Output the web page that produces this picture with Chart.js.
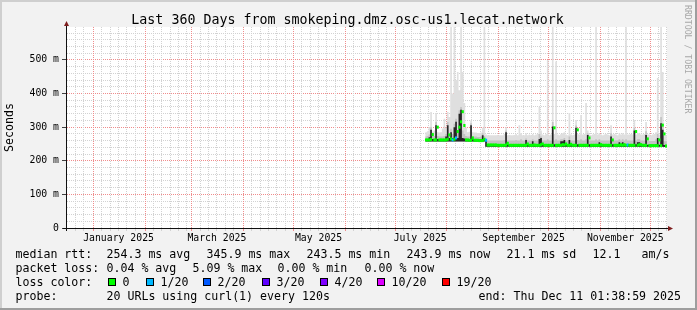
<!DOCTYPE html>
<html>
<head>
<meta charset="utf-8">
<script src="https://cdn.jsdelivr.net/npm/chart.js@4.4.1/dist/chart.umd.min.js"></script>
<style>
  html, body { margin: 0; padding: 0; background: #f2f2f2; }
  #wrap { width: 697px; height: 310px; }
</style>
</head>
<body>
<div id="wrap"><canvas id="chart" width="697" height="310"></canvas></div>
<script>
// --- data, one value per day from 2025-07-19 ---
const medianRtt = [
  262,262,262,263,278,262,262,300,262,262,  262,262,262,264,277,265,262,264,268,287,
  300,316,346,305,262,262,261,261,268,261,  261,261,260,260,260,264,261,247,247,247,
  247,247,247,246,246,246,246,246,247,252,  246,246,246,246,246,246,246,246,246,246,
  246,250,246,246,246,247,246,246,246,248,  250,246,246,246,246,246,246,298,246,246,
  246,246,248,247,250,246,246,249,246,246,  246,292,246,246,246,246,246,246,268,246,
  246,246,246,246,246,248,246,246,246,246,  246,246,262,246,246,246,246,248,246,248,
  246,247,246,246,246,246,287,246,248,248,  246,246,246,265,245,245,245,245,245,245,
  262,245,306,280,244,244
];
const smokeLow = [
  257,257,257,257,257,257,257,257,257,257,  257,257,257,257,257,257,257,257,257,257,
  257,257,257,257,257,257,257,257,257,257,  257,257,257,257,257,257,257,242,242,242,
  242,242,242,242,242,242,242,242,242,242,  242,242,242,242,242,242,242,242,242,242,
  242,242,242,242,242,242,242,242,242,242,  242,242,242,242,242,242,242,242,242,242,
  242,242,242,242,242,242,242,242,242,242,  242,242,242,242,242,242,242,242,242,242,
  242,242,242,242,242,242,242,242,242,242,  242,242,242,242,242,242,242,242,242,242,
  242,242,242,242,242,242,242,242,242,242,  242,242,242,242,242,242,242,242,242,242,
  242,242,242,242,241,241
];
const smokeDark = [
  264,264,265,270,292,265,265,306,265,264,  264,264,265,272,306,268,285,268,300,316,
  268,340,352,268,266,265,264,264,306,264,  264,264,263,263,264,276,264,262,249,249,
  249,249,249,249,249,249,249,249,250,285,  249,249,249,249,249,250,249,249,249,249,
  249,262,249,249,249,258,249,249,249,265,  268,249,249,249,250,249,249,302,249,250,
  249,249,258,258,262,249,249,262,249,249,  249,298,249,249,249,249,249,250,277,249,
  249,249,249,249,249,255,249,249,249,249,  249,249,272,249,249,249,249,255,249,255,
  249,250,249,249,249,249,290,249,255,255,  249,249,249,277,248,248,248,248,248,249,
  268,248,312,292,247,247
];
const smokeMid = [
  272,272,274,278,300,274,274,315,274,272,  272,272,274,280,315,280,295,280,310,325,
  285,350,360,290,280,274,272,272,312,272,  272,272,271,271,272,282,274,266,260,260,
  260,260,260,260,260,260,260,260,262,290,  260,260,260,260,260,262,260,260,264,260,
  260,266,260,260,260,264,260,260,260,280,  272,260,260,260,264,260,260,315,260,264,
  260,260,264,264,268,260,260,272,260,260,  260,305,262,260,264,260,260,264,282,260,
  260,260,260,264,260,264,260,260,260,260,  260,260,282,260,260,260,260,264,260,264,
  260,264,260,260,260,260,298,260,264,264,  260,260,260,288,259,259,259,259,259,264,
  280,259,330,310,258,258
];
const smokeMax = [
  284,285,288,300,345,286,290,342,285,284,  285,296,325,298,345,330,620,400,620,440,
  464,410,620,464,372,298,285,286,320,285,  284,284,283,283,284,298,620,278,276,276,
  276,276,276,276,277,276,276,276,280,300,  276,277,276,276,277,280,276,306,282,276,
  276,282,276,278,276,280,276,278,280,361,  290,278,276,280,500,276,278,600,280,495,
  278,276,280,282,285,278,276,342,278,276,  278,321,280,278,336,278,280,372,290,278,
  276,278,280,620,278,282,278,276,278,280,  278,276,306,278,280,278,276,282,278,282,
  278,620,278,278,280,278,321,278,282,282,  278,278,280,315,278,278,276,278,280,285,
  446,278,620,464,276,276
];
const lossCount = [
  0,0,0,0,0,0,0,0,0,0,  0,0,0,0,0,0,1,0,1,0,
  0,0,0,0,0,0,0,0,0,0,  0,0,0,0,0,0,1,0,0,0,
  0,0,0,0,0,0,0,0,0,0,  0,0,0,0,0,0,0,0,0,0,
  0,0,0,0,0,0,0,0,0,0,  0,0,0,0,0,0,0,0,0,0,
  0,0,0,0,0,0,0,0,0,0,  0,0,0,0,0,0,0,0,0,0,
  0,0,0,0,0,0,0,0,0,0,  0,0,0,0,0,0,0,0,0,0,
  0,1,0,0,0,0,0,0,0,0,  0,0,0,0,0,0,0,0,0,0,
  0,0,0,0,0,0
];

const lossSteps  = [0, 1, 2, 3, 4, 10, 19];
const lossColors = ['#00ff00', '#00b8ff', '#0059ff', '#5e00ff', '#7e00ff', '#dd00ff', '#ff0000'];
const lossLabels = ['0', '1/20', '2/20', '3/20', '4/20', '10/20', '19/20'];

const yGridValues  = [0,20,40,60,80,100,120,140,160,180,200,220,240,260,280,300,320,340,360,380,400,420,440,460,480,500,520,540,560,580];
const yLabelValues = [0, 100, 200, 300, 400, 500];
const yLabelTexts  = ['0', '100 m', '200 m', '300 m', '400 m', '500 m'];

const labelMonths = [0, 2, 4, 6, 8, 10];
const monthLabels = ['January 2025', 'March 2025', 'May 2025', 'July 2025', 'September 2025', 'November 2025'];

const titleText = 'Last 360 Days from smokeping.dmz.osc-us1.lecat.network';

// --- time axis: days since the start of the 360 day window ---
const DAY = 86400000;
const endTime = Date.UTC(2025, 11, 11, 1, 38, 59);
const startTime = endTime - 360 * DAY;
const toDay = t => (t - startTime) / DAY;
const firstBin = toDay(Date.UTC(2025, 6, 19));

const xTicks = [];
for (let yr = 2024; yr <= 2025; yr++) {
  for (let m = 0; m < 12; m++) {
    for (const d of [1, 6, 11, 16, 21, 26]) {
      const v = toDay(Date.UTC(yr, m, d));
      if (v < 0 || v > 360) continue;
      const k = labelMonths.indexOf(m);
      xTicks.push({ v, major: d === 1, label: (yr === 2025 && d === 16 && k >= 0) ? monthLabels[k] : '' });
    }
  }
}

const bins = arr => arr.map((v, i) => ({ x: firstBin + i, y: v }));
const mids = arr => arr.map((v, i) => ({ x: firstBin + i + 0.5, y: v }));

function lossColor(n) {
  let c = lossColors[0];
  lossSteps.forEach((s, k) => { if (n >= s) c = lossColors[k]; });
  return c;
}

const MONO = '"DejaVu Sans Mono", monospace';
const NONE = 'rgba(0,0,0,0)';
const gridMinor = 'rgb(210,210,210)';
const gridMajor = 'rgb(240,140,140)';

const smoke = (data, color, order) => ({
  data: bins(data), stepped: 'after', fill: 4, order,
  backgroundColor: color, borderColor: NONE, borderWidth: 0, pointRadius: 0
});

// rrdtool style dotted grid, one pixel on / one off, placed by the chart scales
const dottedGrid = {
  id: 'dottedGrid',
  beforeDatasetsDraw(chart) {
    const { ctx, chartArea: a, scales } = chart;
    const top = Math.round(a.top), bottom = Math.round(a.bottom);
    const left = Math.round(a.left), right = Math.round(a.right);
    ctx.save();
    const hLine = (row, color) => {
      ctx.fillStyle = color;
      for (let x = left; x < right; x += 2) ctx.fillRect(x, row, 1, 1);
    };
    const vLine = (col, color) => {
      ctx.fillStyle = color;
      for (let y = bottom - 1; y >= top; y -= 2) ctx.fillRect(col, y, 1, 1);
    };
    yGridValues.forEach(v => {
      if (v === 0) return;
      const row = Math.floor(scales.y.getPixelForValue(v));
      hLine(row, yLabelValues.includes(v) ? gridMajor : gridMinor);
    });
    xTicks.forEach(t => {
      const col = Math.floor(scales.x.getPixelForValue(t.v));
      vLine(col, t.major ? gridMajor : gridMinor);
      ctx.fillRect(col, bottom + 1, 1, 2);
    });
    ctx.fillStyle = '#404040';
    yLabelValues.forEach(v => {
      const row = Math.floor(scales.y.getPixelForValue(v));
      ctx.fillRect(left - 5, row, 4, 1);
    });
    ctx.restore();
  }
};

// frame, labels and legend drawn the rrdtool way
const rrdFrame = {
  id: 'rrdFrame',
  beforeDraw(chart) {
    const { ctx, chartArea: a } = chart;
    ctx.save();
    ctx.fillStyle = '#f2f2f2';
    ctx.fillRect(0, 0, 697, 310);
    ctx.fillStyle = '#cfcfcf';
    ctx.fillRect(0, 0, 697, 2);
    ctx.fillRect(0, 0, 2, 310);
    ctx.fillStyle = '#9e9e9e';
    ctx.fillRect(0, 308, 697, 2);
    ctx.fillRect(695, 0, 2, 310);
    ctx.fillStyle = '#ffffff';
    ctx.fillRect(a.left, a.top, a.right - a.left, a.bottom - a.top);
    ctx.restore();
  },
  afterDraw(chart) {
    const { ctx, chartArea: a } = chart;
    ctx.save();
    // axes
    ctx.strokeStyle = '#101010';
    ctx.lineWidth = 1;
    ctx.beginPath();
    ctx.moveTo(a.left - 0.5, a.bottom + 3);
    ctx.lineTo(a.left - 0.5, a.top - 2);
    ctx.moveTo(a.left - 4, a.bottom + 0.5);
    ctx.lineTo(a.right + 3, a.bottom + 0.5);
    ctx.stroke();
    ctx.fillStyle = '#7f1f1f';
    ctx.beginPath();
    ctx.moveTo(a.left - 3, a.top - 1);
    ctx.lineTo(a.left + 2, a.top - 1);
    ctx.lineTo(a.left - 0.5, a.top - 6);
    ctx.closePath();
    ctx.fill();
    ctx.beginPath();
    ctx.moveTo(a.right + 1, a.bottom - 2);
    ctx.lineTo(a.right + 1, a.bottom + 3);
    ctx.lineTo(a.right + 6, a.bottom + 0.5);
    ctx.closePath();
    ctx.fill();

    // title
    ctx.fillStyle = '#000';
    ctx.font = '13.3px ' + MONO;
    ctx.textAlign = 'center';
    ctx.textBaseline = 'alphabetic';
    ctx.fillText(titleText, 347.5, 23.5);

    // vertical axis title
    ctx.font = '11.6px ' + MONO;
    ctx.save();
    ctx.translate(13, 127.5);
    ctx.rotate(-Math.PI / 2);
    ctx.textBaseline = 'alphabetic';
    ctx.fillText('Seconds', 0, 0);
    ctx.restore();

    // watermark
    ctx.save();
    ctx.translate(685, 5);
    ctx.rotate(Math.PI / 2);
    ctx.font = '8.2px ' + MONO;
    ctx.fillStyle = '#a8a8a8';
    ctx.textAlign = 'left';
    ctx.textBaseline = 'alphabetic';
    ctx.fillText('RRDTOOL / TOBI OETIKER', 0, 0);
    ctx.restore();

    // legend block
    ctx.font = '11.6px ' + MONO;
    ctx.textAlign = 'left';
    ctx.fillStyle = '#000';
    const rows = [
      [257.5, [[16, 'median rtt:'], [107, '254.3 ms avg'], [207, '345.9 ms max'], [307, '243.5 ms min'],
               [407, '243.9 ms now'], [507, '21.1 ms sd'], [593, '12.1'], [642, 'am/s']]],
      [271.5, [[16, 'packet loss:'], [107, '0.04 % avg'], [193, '5.09 % max'], [278, '0.00 % min'], [365, '0.00 % now']]],
      [285.5, [[16, 'loss color:']]],
      [299.5, [[16, 'probe:'], [107, '20 URLs using curl(1) every 120s']]]
    ];
    rows.forEach(([y, items]) => items.forEach(([x, t]) => ctx.fillText(t, x - 0.5, y)));
    ctx.textAlign = 'right';
    ctx.fillText('end: Thu Dec 11 01:38:59 2025', 681, 299.5);

    const boxX = [108, 146, 203, 262, 320, 377, 442];
    ctx.textAlign = 'left';
    lossLabels.forEach((lab, k) => {
      ctx.fillStyle = lossColors[k];
      ctx.fillRect(boxX[k], 278, 8, 8);
      ctx.strokeStyle = '#000';
      ctx.strokeRect(boxX[k] + 0.5, 278.5, 7, 7);
      ctx.fillStyle = '#000';
      ctx.fillText(lab, boxX[k] + 14.5, 285.5);
    });
    ctx.restore();
  }
};

new Chart(document.getElementById('chart'), {
  type: 'line',
  data: {
    datasets: [
      {
        data: mids(medianRtt), showLine: false, order: 0,
        pointStyle: 'line', pointRadius: 1.1, pointBorderWidth: 3,
        pointBorderColor: lossCount.map(lossColor),
        pointBackgroundColor: lossCount.map(lossColor)
      },
      smoke(smokeDark, '#262626', 1),
      smoke(smokeMid, '#c2c2c2', 2),
      smoke(smokeMax, '#dfdfdf', 3),
      { data: bins(smokeLow), stepped: 'after', fill: false, order: 4,
        borderColor: NONE, borderWidth: 0, pointRadius: 0 }
    ]
  },
  plugins: [rrdFrame, dottedGrid],
  options: {
    responsive: false,
    animation: false,
    devicePixelRatio: 1,
    events: [],
    layout: { padding: { left: 0, right: 30, top: 27, bottom: 0 } },
    plugins: { legend: { display: false }, tooltip: { enabled: false }, title: { display: false } },
    scales: {
      x: {
        type: 'linear', min: 0, max: 360,
        afterBuildTicks: s => { s.ticks = xTicks.map(t => ({ value: t.v })); },
        afterFit: s => { s.height = 82; },
        grid: { drawOnChartArea: false, tickLength: 3, color: NONE, tickColor: NONE },
        border: { display: false },
        ticks: {
          autoSkip: false, maxRotation: 0, minRotation: 0, padding: 1.5,
          color: '#000', font: { family: MONO, size: 9.8 },
          callback: (v, i) => (xTicks[i] ? xTicks[i].label : '')
        }
      },
      y: {
        type: 'linear', min: 0, max: 598,
        afterBuildTicks: s => { s.ticks = yGridValues.map(v => ({ value: v })); },
        afterFit: s => { s.width = 67; },
        grid: { drawOnChartArea: false, tickLength: 3, color: NONE, tickColor: NONE },
        border: { display: false },
        ticks: {
          autoSkip: false, padding: 5, color: '#000', font: { family: MONO, size: 9.8 },
          callback: v => { const k = yLabelValues.indexOf(v); return k >= 0 ? yLabelTexts[k] : ''; }
        }
      }
    }
  }
});
</script>
</body>
</html>
